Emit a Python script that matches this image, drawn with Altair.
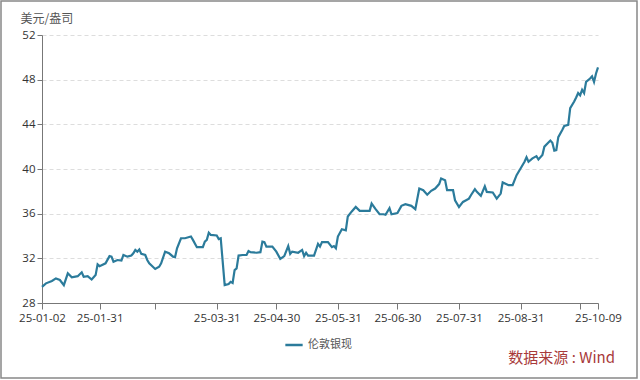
import altair as alt
import pandas as pd

dates = [
    "2025-01-02", "2025-01-04", "2025-01-07", "2025-01-09", "2025-01-11", "2025-01-13", "2025-01-15",
    "2025-01-17", "2025-01-20", "2025-01-22", "2025-01-23", "2025-01-25", "2025-01-27", "2025-01-29",
    "2025-01-30", "2025-01-31", "2025-02-03", "2025-02-05", "2025-02-06", "2025-02-07", "2025-02-09",
    "2025-02-11", "2025-02-12", "2025-02-14", "2025-02-16", "2025-02-17", "2025-02-18", "2025-02-19",
    "2025-02-20", "2025-02-21", "2025-02-23", "2025-02-24", "2025-02-25", "2025-02-28", "2025-03-02",
    "2025-03-03", "2025-03-05", "2025-03-07", "2025-03-09", "2025-03-10", "2025-03-11", "2025-03-13",
    "2025-03-15", "2025-03-18", "2025-03-19", "2025-03-21", "2025-03-24", "2025-03-25", "2025-03-26",
    "2025-03-27", "2025-03-28", "2025-03-31", "2025-04-01", "2025-04-02", "2025-04-04", "2025-04-06",
    "2025-04-07", "2025-04-08", "2025-04-09", "2025-04-10", "2025-04-11", "2025-04-13", "2025-04-15",
    "2025-04-16", "2025-04-17", "2025-04-20", "2025-04-22", "2025-04-23", "2025-04-24", "2025-04-25",
    "2025-04-28", "2025-04-30", "2025-05-02", "2025-05-04", "2025-05-06", "2025-05-07", "2025-05-08",
    "2025-05-11", "2025-05-13", "2025-05-14", "2025-05-15", "2025-05-16", "2025-05-19", "2025-05-21",
    "2025-05-22", "2025-05-23", "2025-05-26", "2025-05-28", "2025-05-29", "2025-05-30", "2025-05-31",
    "2025-06-02", "2025-06-04", "2025-06-05", "2025-06-07", "2025-06-09", "2025-06-11", "2025-06-14",
    "2025-06-16", "2025-06-17", "2025-06-19", "2025-06-21", "2025-06-23", "2025-06-24", "2025-06-26",
    "2025-06-27", "2025-06-30", "2025-07-02", "2025-07-04", "2025-07-07", "2025-07-09", "2025-07-11",
    "2025-07-13", "2025-07-15", "2025-07-17", "2025-07-19", "2025-07-21", "2025-07-22", "2025-07-24",
    "2025-07-25", "2025-07-28", "2025-07-29", "2025-07-31", "2025-08-02", "2025-08-05", "2025-08-06",
    "2025-08-08", "2025-08-09", "2025-08-11", "2025-08-13", "2025-08-14", "2025-08-17", "2025-08-19",
    "2025-08-21", "2025-08-22", "2025-08-25", "2025-08-27", "2025-08-29", "2025-08-31", "2025-09-02",
    "2025-09-03", "2025-09-04", "2025-09-06", "2025-09-08", "2025-09-09", "2025-09-11", "2025-09-12",
    "2025-09-15", "2025-09-16", "2025-09-17", "2025-09-18", "2025-09-19", "2025-09-21", "2025-09-22",
    "2025-09-24", "2025-09-25", "2025-09-27", "2025-09-28", "2025-09-29", "2025-09-30", "2025-10-01",
    "2025-10-02", "2025-10-03", "2025-10-05", "2025-10-06", "2025-10-07", "2025-10-08", "2025-10-09",
]

prices = [
    29.45, 29.76, 29.97, 30.20, 30.06, 29.60, 30.66,
    30.30, 30.40, 30.75, 30.35, 30.40, 30.10, 30.50,
    31.46, 31.30, 31.55, 32.20, 32.15, 31.70, 31.85,
    31.80, 32.30, 32.15, 32.25, 32.45, 32.75, 32.60,
    32.80, 32.40, 32.30, 31.85, 31.55, 31.05, 31.25,
    31.55, 32.60, 32.45, 32.15, 32.10, 32.90, 33.80,
    33.80, 33.95, 33.65, 33.00, 33.00, 33.50, 33.65,
    34.30, 34.10, 34.05, 33.73, 33.80, 29.60, 29.70,
    29.90, 29.80, 30.95, 31.10, 32.25, 32.30, 32.30,
    32.65, 32.55, 32.50, 32.55, 33.50, 33.45, 33.05,
    33.05, 32.60, 31.95, 32.20, 33.10, 32.40, 32.60,
    32.50, 32.75, 32.20, 32.50, 32.25, 32.25, 33.30,
    33.05, 33.45, 33.45, 33.00, 33.10, 32.90, 33.95,
    34.60, 34.50, 35.75, 36.20, 36.60, 36.25, 36.25,
    36.25, 36.90, 36.40, 35.95, 35.95, 35.90, 36.50,
    35.95, 36.05, 36.70, 36.85, 36.70, 36.40, 38.25,
    38.10, 37.70, 38.05, 38.25, 38.65, 39.15, 39.00,
    38.10, 38.10, 37.20, 36.60, 37.05, 37.35, 37.65,
    38.20, 37.95, 37.60, 38.45, 37.95, 37.90, 37.35,
    37.80, 38.80, 38.55, 38.55, 39.45, 40.05, 40.65,
    41.05, 40.65, 40.95, 41.15, 40.85, 41.25, 42.00,
    42.55, 42.35, 41.65, 41.70, 42.85, 43.50, 43.85,
    43.95, 45.45, 46.05, 46.40, 46.80, 46.60, 47.10,
    46.80, 47.80, 48.10, 48.30, 47.80, 48.55, 49.10,
]

series_name = "伦敦银现"
y_ticks = [28, 32, 36, 40, 44, 48, 52]
x_tick_dates = [(2025, 1, 2), (2025, 1, 31), (2025, 2, 28), (2025, 3, 31), (2025, 4, 30),
                (2025, 5, 31), (2025, 6, 30), (2025, 7, 31), (2025, 8, 31), (2025, 9, 30),
                (2025, 10, 9)]
y_title = "美元/盎司"
source_text = "数据来源 : Wind"

FONT = "Noto Sans CJK SC"
NUM_FONT = "Open Sans"
LINE_COLOR = "#2b7b9b"

df = pd.DataFrame({"date": dates, "price": prices, "series": series_name})

x_vals = [alt.DateTime(year=y, month=m, date=d, utc=True) for (y, m, d) in x_tick_dates]

line = alt.Chart(df).mark_line(strokeWidth=2.2).encode(
    x=alt.X(
        "date:T",
        scale=alt.Scale(
            type="utc",
            domain=[alt.DateTime(year=2025, month=1, date=2, utc=True),
                    alt.DateTime(year=2025, month=10, date=9, utc=True)],
            nice=False,
        ),
        axis=alt.Axis(
            values=x_vals,
            labelExpr="(utcmonth(datum.value) == 1 || utcmonth(datum.value) == 8) ? '' : utcFormat(datum.value, '%y-%m-%d')",
            title=None,
            grid=False,
            domainColor="#777777",
            tickColor="#777777",
            tickSize=6,
            labelColor="#333333",
            labelFontSize=11.5,
            labelFont=NUM_FONT,
            labelPadding=3,
            labelOverlap=False,
            labelFlush=False,
        ),
    ),
    y=alt.Y(
        "price:Q",
        scale=alt.Scale(domain=[28, 52], nice=False, zero=False),
        axis=alt.Axis(
            values=y_ticks,
            title=y_title,
            titleAngle=0,
            titleX=-22,
            titleY=-17,
            titleAlign="left",
            titleBaseline="middle",
            titleFont=FONT,
            titleFontSize=12,
            titleFontWeight="normal",
            titleColor="#555555",
            grid=True,
            gridDash=[4, 3],
            gridColor="#dddddd",
            domainColor="#777777",
            tickColor="#777777",
            tickSize=5,
            labelColor="#333333",
            labelFontSize=11.5,
            labelFont=NUM_FONT,
            labelPadding=2,
        ),
    ),
    color=alt.Color(
        "series:N",
        scale=alt.Scale(domain=[series_name], range=[LINE_COLOR]),
        legend=alt.Legend(
            title=None,
            orient="none",
            legendX=242,
            legendY=300,
            symbolType="stroke",
            symbolStrokeWidth=2.5,
            symbolSize=300,
            labelFont=FONT,
            labelFontSize=11,
            labelColor="#555555",
        ),
    ),
)

source = alt.Chart(pd.DataFrame({"t": [source_text]})).mark_text(
    align="right", baseline="middle", font=FONT, fontSize=15, color="#a83a3a"
).encode(
    text="t:N",
    x=alt.value(573),
    y=alt.value(323),
)

border = alt.Chart(pd.DataFrame({"k": [0]})).mark_rect(
    fillOpacity=0, stroke="#888888", strokeWidth=1.5
).encode(
    x=alt.value(-41),
    x2=alt.value(595),
    y=alt.value(-34),
    y2=alt.value(343),
)

chart = alt.layer(line, source, border).properties(
    width=556,
    height=268,
    padding={"left": 42, "top": 35, "right": 42, "bottom": 77},
    autosize=alt.AutoSizeParams(type="none"),
    background="white",
).configure_view(stroke=None)

chart.save("out.html", embed_options={"renderer": "svg", "actions": False})
